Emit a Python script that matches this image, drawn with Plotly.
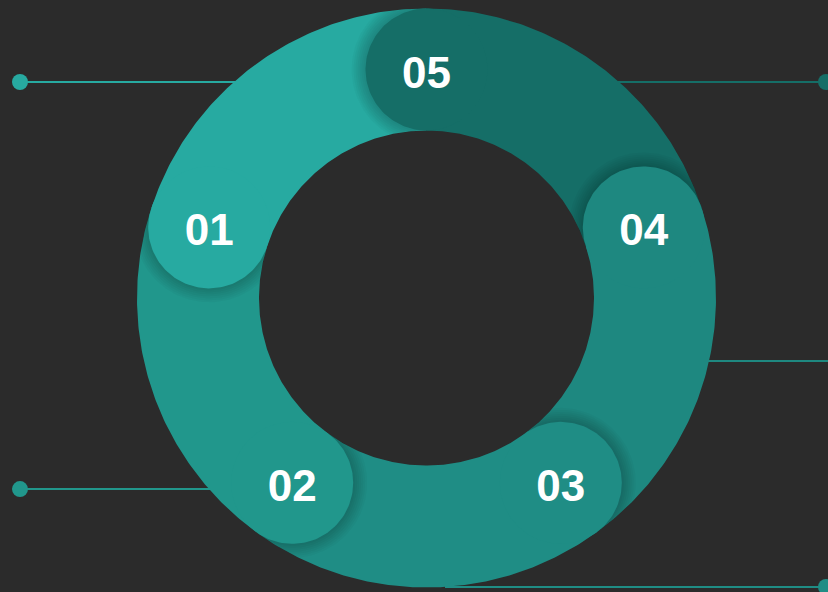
import numpy as np
import plotly.graph_objects as go

# ---------------- data ----------------
labels = ["01", "02", "03", "04", "05"]
values = [20, 20, 20, 20, 20]
colors = ["#27aaa1", "#21978c", "#1f8d85", "#1e8880", "#156e67"]

# ---------------- layout constants ----------------
W, H = 828, 592
CX, CY, S = 426.5, 298.0, 289.5          # centre (px) and px per unit (outer radius = 1)
R_OUT, R_IN = 1.0, 167.5 / 289.5
R_MID = (R_OUT + R_IN) / 2
CAP_R = (R_OUT - R_IN) / 2
START = 90.0                              # degrees, slices run counter-clockwise
TEXT_DROP = 7 / S                         # label baseline nudge

# leader lines: (y level, start x, dot x) in chart units
leaders = {
    "01": (0.746, -0.30, (20 - CX) / S),
    "02": (-0.660, -0.45, (20 - CX) / S),
    "03": (-0.998, (445 - CX) / S, (826 - CX) / S),
    "04": (-0.218, 0.75, 1.55),
    "05": (0.746, 0.30, (826 - CX) / S),
}

fig = go.Figure()

# leader lines behind the ring
for lab, col in zip(labels, colors):
    y, x0, x1 = leaders[lab]
    fig.add_trace(go.Scatter(x=[x0, x1], y=[y, y], mode="lines",
                             line=dict(color=col, width=2), hoverinfo="skip"))
    fig.add_trace(go.Scatter(x=[x1], y=[y], mode="markers",
                             marker=dict(color=col, size=16), hoverinfo="skip"))

total = float(sum(values))
cum = np.concatenate([[0.0], np.cumsum(values)]) / total * 360.0

# sectors
for i, col in enumerate(colors):
    a0 = np.radians(START + cum[i])
    a1 = np.radians(START + cum[i + 1])
    t = np.linspace(a0, a1, 120)
    xs = np.concatenate([R_OUT * np.cos(t), R_IN * np.cos(t[::-1])])
    ys = np.concatenate([R_OUT * np.sin(t), R_IN * np.sin(t[::-1])])
    fig.add_trace(go.Scatter(x=np.append(xs, xs[0]), y=np.append(ys, ys[0]),
                             fill="toself", fillcolor=col, mode="lines",
                             line=dict(width=0, color=col), hoverinfo="skip"))

# shadows on the counter-clockwise side of each cap, clipped to the ring
for i in range(len(values)):
    a1 = np.radians(START + cum[i + 1])
    cx, cy = R_MID * np.cos(a1), R_MID * np.sin(a1)
    for d_px in [2, 4, 6, 8, 10, 12, 14]:
        rr = CAP_R + d_px / S
        t = np.linspace(a1, a1 + np.pi, 90)
        px = cx + rr * np.cos(t)
        py = cy + rr * np.sin(t)
        rad = np.hypot(px, py)
        ang = np.arctan2(py, px)
        rad = np.clip(rad, R_IN, R_OUT)
        px, py = rad * np.cos(ang), rad * np.sin(ang)
        fig.add_trace(go.Scatter(x=np.append(px, px[0]), y=np.append(py, py[0]),
                                 fill="toself", fillcolor="rgba(0,0,0,0.028)",
                                 mode="lines", line=dict(width=0),
                                 hoverinfo="skip"))

# round caps
cap_x, cap_y = [], []
for i, col in enumerate(colors):
    a1 = np.radians(START + cum[i + 1])
    cx, cy = R_MID * np.cos(a1), R_MID * np.sin(a1)
    cap_x.append(cx)
    cap_y.append(cy)
    t = np.linspace(0, 2 * np.pi, 160)
    fig.add_trace(go.Scatter(x=cx + CAP_R * np.cos(t), y=cy + CAP_R * np.sin(t),
                             fill="toself", fillcolor=col, mode="lines",
                             line=dict(width=0, color=col), hoverinfo="skip"))

# labels
fig.add_trace(go.Scatter(x=cap_x, y=[v - TEXT_DROP for v in cap_y], mode="text",
                         text=labels, textposition="middle center",
                         textfont=dict(family="Liberation Sans, Arial, sans-serif",
                                       size=44, color="#ffffff", weight="bold"),
                         hoverinfo="skip"))

fig.update_layout(
    width=W, height=H,
    margin=dict(l=0, r=0, t=0, b=0),
    paper_bgcolor="#2b2b2b", plot_bgcolor="#2b2b2b",
    showlegend=False,
    xaxis=dict(range=[-CX / S, (W - CX) / S], visible=False, fixedrange=True),
    yaxis=dict(range=[-(H - CY) / S, CY / S], visible=False, fixedrange=True),
)

fig.write_html("out.html",
               config={"displayModeBar": False, "staticPlot": True},
               post_script="document.body.style.margin='0';"
                           "document.body.style.background='#2b2b2b';"
                           "document.body.style.overflow='hidden';")
